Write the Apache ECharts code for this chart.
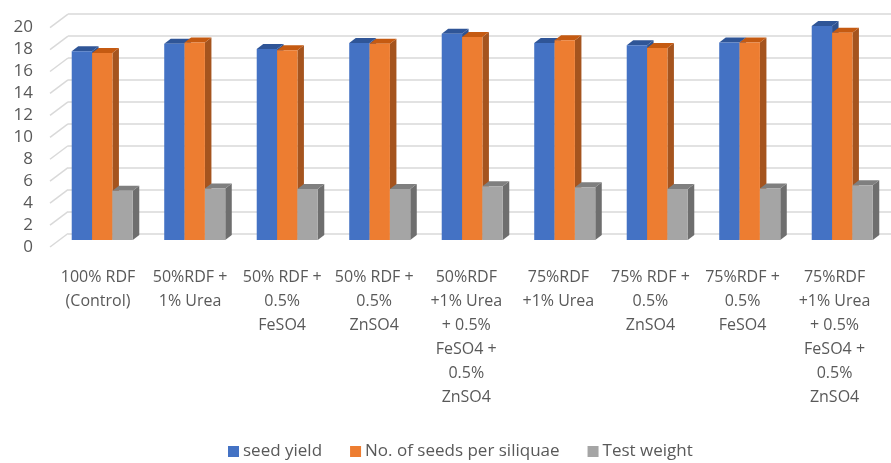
<!DOCTYPE html>
<html><head><meta charset="utf-8">
<script src="https://cdn.jsdelivr.net/npm/echarts@6/dist/echarts.min.js"></script>
<style>html,body{margin:0;padding:0;background:#fff}#c{width:891px;height:463px}</style>
</head><body><div id="c"></div>
<script>
const categories = [
  "100% RDF\n(Control)",
  "50%RDF +\n1% Urea",
  "50% RDF +\n0.5%\nFeSO4",
  "50% RDF +\n0.5%\nZnSO4",
  "50%RDF\n+1% Urea\n+ 0.5%\nFeSO4 +\n0.5%\nZnSO4",
  "75%RDF\n+1% Urea",
  "75% RDF +\n0.5%\nZnSO4",
  "75%RDF +\n0.5%\nFeSO4",
  "75%RDF\n+1% Urea\n+ 0.5%\nFeSO4 +\n0.5%\nZnSO4"
];
const seriesNames = ["seed yield", "No. of seeds per siliquae", "Test weight"];
const seedYield = [17.2, 17.9, 17.4, 17.95, 18.8, 17.95, 17.75, 18.0, 19.5];
const seedsPerSiliquae = [17.05, 18.0, 17.3, 17.9, 18.5, 18.2, 17.5, 18.0, 18.9];
const testWeight = [4.5, 4.7, 4.65, 4.65, 4.9, 4.8, 4.65, 4.7, 5.0];
const yTicks = [0, 2, 4, 6, 8, 10, 12, 14, 16, 18, 20];

const palette = [
  {front: '#4472C4', top: '#2F5597', side: '#2F528F'},
  {front: '#ED7D31', top: '#C55A11', side: '#A5541E'},
  {front: '#A5A5A5', top: '#7F7F7F', side: '#6E6E6E'}
];
const DX = 6.5, DY = 5;

function makeBarRender(si) {
  return function (params, api) {
    const x = api.value(0), v = api.value(1);
    const base = api.coord([x, 0]);
    const top = api.coord([x, v]);
    const band = api.size([1, 0])[0];
    const w = band * 0.22;
    const left = base[0] - 1.5 * w + si * w;
    const c = palette[si];
    return {
      type: 'group',
      children: [
        {type: 'polygon', shape: {points: [[left + w, top[1]], [left + w + DX, top[1] - DY], [left + w + DX, base[1] - DY], [left + w, base[1]]]}, style: {fill: c.side}},
        {type: 'polygon', shape: {points: [[left, top[1]], [left + w, top[1]], [left + w + DX, top[1] - DY], [left + DX, top[1] - DY]]}, style: {fill: c.top}},
        {type: 'rect', shape: {x: left, y: top[1], width: w, height: base[1] - top[1]}, style: {fill: c.front}}
      ]
    };
  };
}

const dataSets = [seedYield, seedsPerSiliquae, testWeight];
const barSeries = dataSets.map((arr, si) => ({
  name: seriesNames[si],
  type: 'custom',
  xAxisIndex: 0, yAxisIndex: 0,
  itemStyle: {color: palette[si].front},
  renderItem: makeBarRender(si),
  encode: {x: 0, y: 1},
  data: arr.map((v, i) => [i, v]),
  z: 10 + si
}));

const chart = echarts.init(document.getElementById('c'));
chart.setOption({
  animation: false,
  textStyle: {fontFamily: 'Open Sans'},
  grid: [
    {left: 56, right: 2.5, top: 20.6, bottom: 223},
    {left: 68, right: 0, top: 14.1, bottom: 229.5},
    {left: 52, right: 10.4, top: 27.6, bottom: 216}
  ],
  xAxis: [
    {gridIndex: 0, type: 'category', data: categories, show: false},
    {gridIndex: 1, type: 'category', data: categories, show: false},
    {gridIndex: 2, type: 'category', data: categories,
     axisLine: {show: false}, axisTick: {show: false},
     axisLabel: {interval: 0, margin: 18, fontSize: 16, lineHeight: 24, color: '#595959', fontFamily: 'Open Sans'}}
  ],
  yAxis: [
    {gridIndex: 0, type: 'value', min: 0, max: 20, interval: 2, show: false},
    {gridIndex: 1, type: 'value', min: 0, max: 20, interval: 2,
     axisLabel: {show: false}, axisLine: {show: false}, axisTick: {show: false},
     splitLine: {show: true, lineStyle: {color: '#D9D9D9', width: 1.5}}},
    {gridIndex: 2, type: 'value', min: 0, max: 20, interval: 2,
     axisLine: {show: false}, axisTick: {show: false}, splitLine: {show: false},
     axisLabel: {margin: 19, fontSize: 17, color: '#595959', fontFamily: 'Open Sans'}}
  ],
  legend: {
    data: seriesNames,
    left: 228, top: 443, padding: 0,
    icon: 'rect', itemWidth: 11, itemHeight: 11, itemGap: 28,
    textStyle: {fontSize: 17, color: '#595959', fontFamily: 'Open Sans', padding: [0, 0, 0, -1]}
  },
  series: [
    {
      type: 'custom', xAxisIndex: 2, yAxisIndex: 2, silent: true,
      data: yTicks.map(t => [0, t]),
      encode: {x: 0, y: 1},
      renderItem: function (params, api) {
        const cs = params.coordSys;
        const y = api.coord([0, api.value(1)])[1];
        return {type: 'line', shape: {x1: cs.x - 2, y1: y, x2: cs.x + 16, y2: y - 13.5},
                style: {stroke: '#D9D9D9', lineWidth: 1.5}};
      },
      z: 1
    }
  ].concat(barSeries)
});
</script>
</body></html>
